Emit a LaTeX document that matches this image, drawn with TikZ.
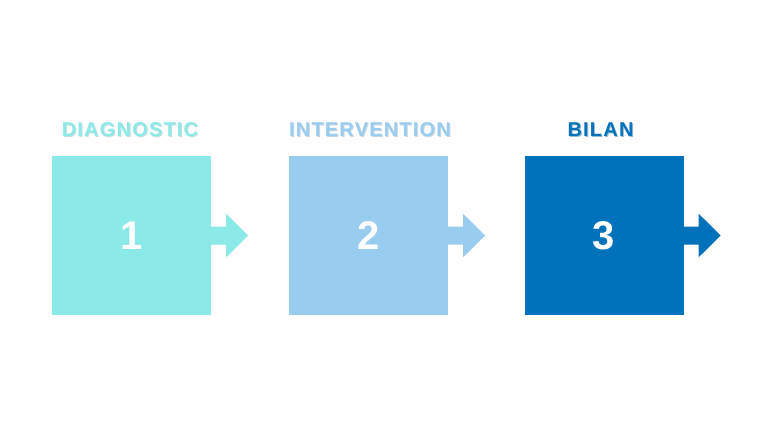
\documentclass[tikz,border=0pt]{standalone}
\usepackage{fontspec}
\setmainfont{Liberation Sans}
\usetikzlibrary{calc}
\definecolor{diagcol}{RGB}{139,234,232}
\definecolor{intercol}{RGB}{153,205,240}
\definecolor{bilancol}{RGB}{0,114,187}
\tikzset{
  stepsquare/.style={draw=none,minimum size=159pt,inner sep=0pt,text=white,
    font=\fontsize{40}{40}\selectfont\bfseries},
  steptitle/.style={inner sep=0pt,anchor=base,
    font=\fontsize{20}{20}\selectfont\bfseries\addfontfeatures{LetterSpace=6}},
}

\begin{document}
\begin{tikzpicture}[x=1pt,y=1pt,yscale=-1,xscale=1]
\useasboundingbox (0,0) rectangle (768,432);

%Shape: Square [id:diag]
\node [stepsquare,fill=diagcol] (s1) at (131.5,235.5) {1};
%Shape: Square [id:inter]
\node [stepsquare,fill=intercol] (s2) at (368.5,235.5) {2};
%Shape: Square [id:bilan]
\node [stepsquare,fill=bilancol] (s3) at (604,235.5) {3};

%Shape: Right Arrow [id:arr1]
\fill [diagcol] ($(s1.east)+(-1,-9)$) -- ++(16,0) -- ++(0,-12.75) -- ++(22,21.75) -- ++(-22,21.75) -- ++(0,-12.75) -- ++(-16,0) -- cycle ;
%Shape: Right Arrow [id:arr2]
\fill [intercol] ($(s2.east)+(-1,-9)$) -- ++(16,0) -- ++(0,-12.75) -- ++(22,21.75) -- ++(-22,21.75) -- ++(0,-12.75) -- ++(-16,0) -- cycle ;
%Shape: Right Arrow [id:arr3]
\fill [bilancol] ($(s3.east)+(-1,-9)$) -- ++(16,0) -- ++(0,-12.75) -- ++(22,21.75) -- ++(-22,21.75) -- ++(0,-12.75) -- ++(-16,0) -- cycle ;

% Text Node
\node [steptitle,text=diagcol!75!black,opacity=0.4] at (131,137) {DIAGNOSTIC};
\node [steptitle,text=diagcol] (t1) at (130,136) {DIAGNOSTIC};
% Text Node
\node [steptitle,text=intercol!75!black,opacity=0.4] at (371,137) {INTERVENTION};
\node [steptitle,text=intercol] (t2) at (370,136) {INTERVENTION};
% Text Node
\node [steptitle,text=bilancol!75!black,opacity=0.4] at (601.5,137) {BILAN};
\node [steptitle,text=bilancol] (t3) at (600.5,136) {BILAN};

\end{tikzpicture}
\end{document}
